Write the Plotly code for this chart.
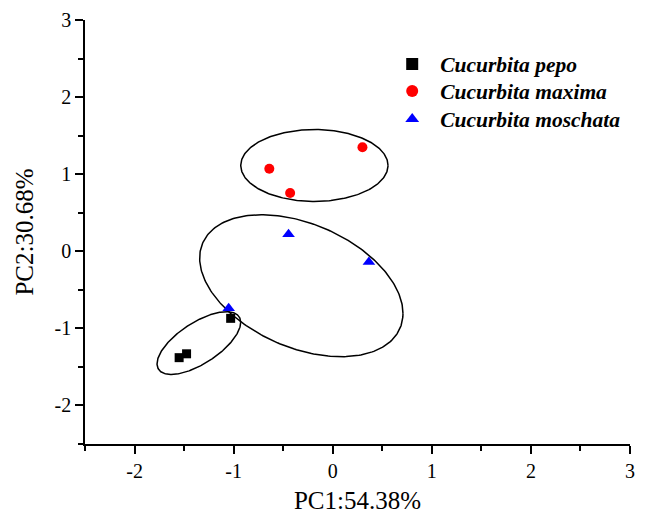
import numpy as np
import plotly.graph_objects as go

# ---- data ----
species = ["Cucurbita pepo", "Cucurbita maxima", "Cucurbita moschata"]
pepo_pc1 = [-1.03, -1.475, -1.55]
pepo_pc2 = [-0.87, -1.33, -1.38]
maxima_pc1 = [0.30, -0.64, -0.43]
maxima_pc2 = [1.35, 1.07, 0.755]
moschata_pc1 = [-0.446, 0.365, -1.05]
moschata_pc2 = [0.22, -0.14, -0.74]

# confidence ellipses: centre x, centre y, half-extent x, half-extent y, correlation
ell_cx = [-1.351, -0.185, -0.317]
ell_cy = [-1.191, 1.113, -0.447]
ell_wx = [0.422, 0.743, 1.026]
ell_wy = [0.407, 0.466, 0.921]
ell_rho = [0.66, 0.0, -0.39]

x_ticks = [-2, -1, 0, 1, 2, 3]
y_ticks = [-2, -1, 0, 1, 2, 3]
x_title = "PC1:54.38%"
y_title = "PC2:30.68%"

FONT = "Liberation Serif, Times New Roman, serif"

fig = go.Figure()

t = np.linspace(0, 2 * np.pi, 300)
for cx, cy, wx, wy, rho in zip(ell_cx, ell_cy, ell_wx, ell_wy, ell_rho):
    ex = cx + wx * np.cos(t)
    ey = cy + wy * (rho * np.cos(t) + np.sqrt(1 - rho ** 2) * np.sin(t))
    fig.add_trace(go.Scatter(x=ex, y=ey, mode="lines",
                             line=dict(color="black", width=1.5),
                             showlegend=False, hoverinfo="skip"))

fig.add_trace(go.Scatter(x=pepo_pc1, y=pepo_pc2, mode="markers", name=species[0],
                         legend="legend",
                         marker=dict(symbol="square", size=9, color="black")))
fig.add_trace(go.Scatter(x=maxima_pc1, y=maxima_pc2, mode="markers", name=species[1],
                         legend="legend2",
                         marker=dict(symbol="circle", size=10, color="red")))
fig.add_trace(go.Scatter(x=moschata_pc1, y=moschata_pc2, mode="markers", name=species[2],
                         legend="legend3",
                         marker=dict(symbol="triangle-up", size=11, color="blue")))

axis_common = dict(
    showline=True, linecolor="black", linewidth=1.5,
    showgrid=False, zeroline=False, automargin=False,
    ticks="outside", ticklen=8, tickwidth=1.5, tickcolor="black",
    tickfont=dict(family=FONT, size=20, color="black"),
    minor=dict(dtick=0.5, ticks="outside", ticklen=5, tickwidth=1.5, tickcolor="black", showgrid=False),
)

legend_common = dict(x=0.549, xanchor="left", yanchor="middle",
                     bgcolor="rgba(0,0,0,0)", borderwidth=0, itemwidth=46,
                     font=dict(family=FONT, size=21.5, style="italic", weight="bold"),
                     itemsizing="constant")

fig.update_layout(
    width=646, height=514,
    margin=dict(l=85, r=16, t=20, b=70),
    plot_bgcolor="white", paper_bgcolor="white",
    font=dict(family=FONT, color="black"),
    xaxis=dict(range=[-2.5, 3], tickvals=x_ticks, ticktext=[str(v) for v in x_ticks],
               title=dict(text=x_title, font=dict(family=FONT, size=25), standoff=11),
               **axis_common),
    yaxis=dict(range=[-2.5, 3], tickvals=y_ticks, ticktext=[str(v) for v in y_ticks],
               title=dict(text=y_title, font=dict(family=FONT, size=25), standoff=14),
               **axis_common),
    legend=dict(y=0.896, **legend_common),
    legend2=dict(y=0.8325, **legend_common),
    legend3=dict(y=0.7665, **legend_common),
    showlegend=True,
)

fig.write_html("out.html", config={"displayModeBar": False},
               post_script="document.body.style.margin='0';document.body.style.overflow='hidden';")
